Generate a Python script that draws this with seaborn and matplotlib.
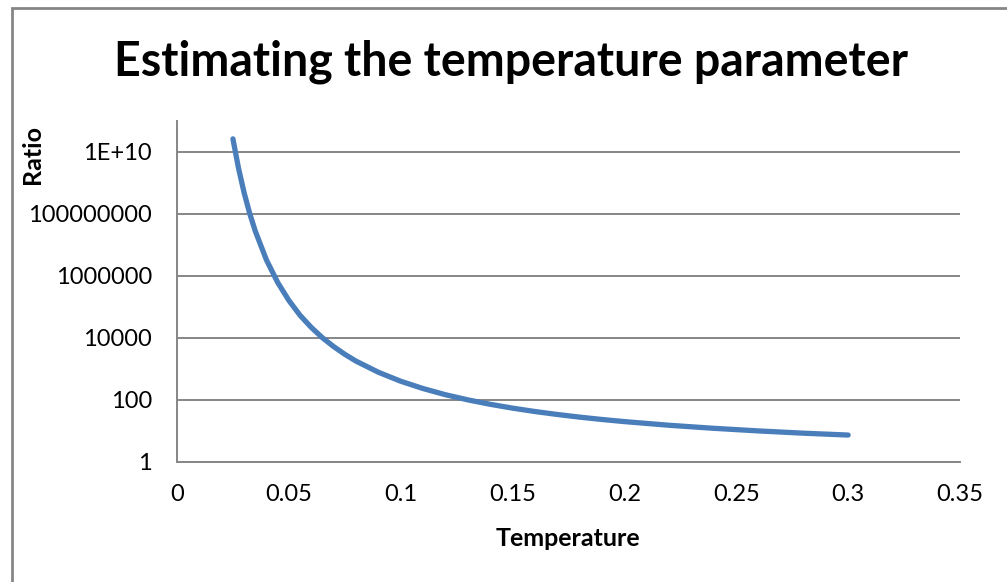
import matplotlib
matplotlib.use("Agg")
import matplotlib.pyplot as plt
import seaborn as sns
import pandas as pd
from matplotlib.patches import Rectangle

# values
temperature = [0.025, 0.0275, 0.03, 0.0325, 0.035, 0.04, 0.045, 0.05, 0.055,
               0.06, 0.065, 0.07, 0.075, 0.08, 0.09, 0.1, 0.11, 0.12, 0.13,
               0.14, 0.15, 0.16, 0.17, 0.18, 0.19, 0.2, 0.22, 0.24, 0.26,
               0.28, 0.3]
ratio = [2.65e10, 3.0e9, 4.85e8, 1.04e8, 2.8e7, 3.27e6, 6.2e5, 1.63e5, 5.4e4,
         2.2e4, 1.02e4, 5.3e3, 2.98e3, 1.8e3, 786, 403, 234, 148, 101,
         72.7, 54.6, 42.5, 34.1, 28.0, 23.5, 20.1, 15.3, 12.2, 10.05,
         8.5, 7.4]

y_ticks = [1, 1e2, 1e4, 1e6, 1e8, 1e10]
y_labels = ["1", "100", "10000", "1000000", "100000000", "1E+10"]
x_ticks = [0, 0.05, 0.1, 0.15, 0.2, 0.25, 0.3, 0.35]
x_labels = ["0", "0.05", "0.1", "0.15", "0.2", "0.25", "0.3", "0.35"]

df = pd.DataFrame({"Temperature": temperature, "Ratio": ratio})

sns.set_style("white")
plt.rcParams["font.family"] = ["Lato", "DejaVu Sans"]
plt.rcParams["text.color"] = "black"
plt.rcParams["xtick.color"] = "black"
plt.rcParams["ytick.color"] = "black"

fig = plt.figure(figsize=(10.07, 5.82), dpi=100)
ax = fig.add_axes([177 / 1007, 1 - 462 / 582, (960 - 177) / 1007, (462 - 121) / 582])

sns.lineplot(data=df, x="Temperature", y="Ratio", ax=ax, color="#4A7EBB",
             linewidth=3.8, solid_capstyle="round")

ax.set_yscale("log")
ax.set_ylim(1, 1e11)
ax.set_xlim(0, 0.35)
ax.set_yticks(y_ticks)
ax.set_yticklabels(y_labels)
ax.set_xticks(x_ticks)
ax.set_xticklabels(x_labels)
ax.minorticks_off()
ax.tick_params(axis="y", length=0, pad=18, labelsize=17)
ax.tick_params(axis="x", length=0, pad=16, labelsize=17)

ax.grid(axis="y", color="#868686", linewidth=1.4)
ax.grid(axis="x", visible=False)
for s in ["top", "right"]:
    ax.spines[s].set_visible(False)
for s in ["left", "bottom"]:
    ax.spines[s].set_color("#868686")
    ax.spines[s].set_linewidth(1.4)

ax.set_xlabel("")
ax.set_ylabel("")
fig.text(568 / 1007, 1 - 538 / 582, "Temperature", fontsize=18,
         fontweight="bold", ha="center", va="center")
fig.text(32 / 1007, 1 - 155 / 582, "Ratio", rotation=90, fontsize=18,
         fontweight="bold", ha="center", va="center")

fig.text(511 / 1007, 1 - 62 / 582, "Estimating the temperature parameter",
         fontsize=33.5, fontweight="bold", ha="center", va="center")

# outer chart frame
fig.patches.append(Rectangle((12 / 1007, -0.1), 1.2, 1.1 - 8 / 582,
                             transform=fig.transFigure, fill=False,
                             edgecolor="#868686", linewidth=2))

fig.savefig("out.png", dpi=100)
